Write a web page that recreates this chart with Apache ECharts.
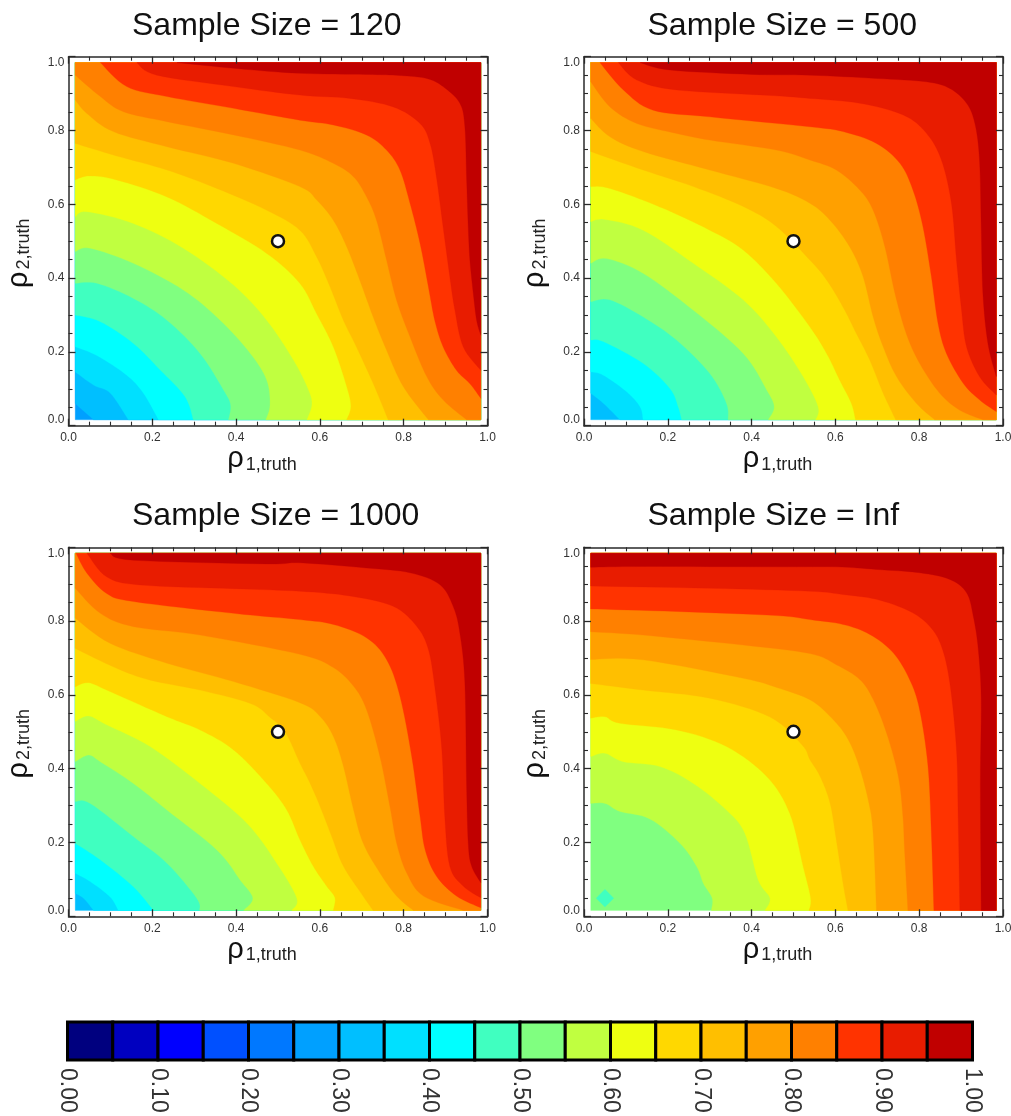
<!DOCTYPE html>
<html><head><meta charset="utf-8">
<style>html,body{margin:0;padding:0;background:#fff}#c{width:1011px;height:1116px}</style>
<script src="https://cdn.jsdelivr.net/npm/echarts@6/dist/echarts.min.js"></script>
</head><body><div id="c"></div>
<script>
const DOMAIN = [0.016, 0.984];
const TITLES = ['Sample Size = 120','Sample Size = 500','Sample Size = 1000','Sample Size = Inf'];
const BAND_COLORS = ['#00007f','#0000c0','#0000ff','#0050ff','#0078ff','#00a0ff','#00bfff','#00e0ff','#00ffff','#40ffc0','#80ff80','#c0ff40','#eeff11','#ffd800','#ffbf00','#ffa000','#ff8000','#ff3300','#e81c00','#c00000'];
const TRUTH_POINT = [0.5,0.5];

// lowest level present in each panel, then contour lines [level, points] in data units
const base120 = 0.25;
const contours120 = [
[0.30,[[.016,.06],[.036,.04],[.06,.016]]],
[0.35,[[.016,.146],[.06,.11],[.10,.088],[.143,.016]]],
[0.40,[[.016,.214],[.068,.19],[.139,.137],[.179,.088],[.215,.016]]],
[0.45,[[.016,.30],[.076,.282],[.155,.223],[.219,.151],[.278,.079],[.298,.016]]],
[0.50,[[.016,.386],[.068,.386],[.155,.345],[.235,.286],[.314,.196],[.37,.097],[.387,.056],[.382,.016]]],
[0.55,[[.016,.472],[.052,.481],[.155,.44],[.274,.368],[.362,.286],[.434,.196],[.473,.124],[.481,.056],[.471,.016]]],
[0.60,[[.016,.566],[.044,.58],[.155,.548],[.274,.481],[.394,.381],[.473,.286],[.537,.178],[.573,.097],[.581,.056],[.569,.016]]],
[0.65,[[.016,.666],[.05,.677],[.115,.666],[.235,.62],[.354,.548],[.473,.467],[.552,.386],[.592,.304],[.632,.214],[.664,.106],[.674,.052],[.664,.016]]],
[0.70,[[.016,.765],[.115,.731],[.235,.693],[.354,.643],[.473,.584],[.552,.53],[.592,.458],[.624,.377],[.656,.286],[.687,.214],[.727,.115],[.763,.016]]],
[0.75,[[.016,.883],[.044,.846],[.107,.797],[.235,.756],[.394,.711],[.552,.648],[.592,.612],[.632,.557],[.664,.485],[.695,.395],[.727,.295],[.759,.205],[.799,.106],[.859,.016]]],
[0.80,[[.016,.95],[.076,.892],[.131,.851],[.235,.824],[.394,.788],[.552,.747],[.632,.711],[.68,.675],[.711,.621],[.735,.557],[.759,.449],[.783,.34],[.815,.241],[.855,.133],[.894,.07],[.95,.016]]],
[0.85,[[.076,.984],[.139,.919],[.235,.892],[.394,.86],[.552,.828],[.632,.815],[.711,.788],[.759,.747],[.791,.693],[.815,.603],[.839,.494],[.859,.376],[.874,.286],[.894,.214],[.926,.15],[.958,.114],[.984,.074]]],
[0.90,[[.163,.984],[.211,.95],[.394,.919],[.552,.896],[.672,.887],[.775,.864],[.839,.819],[.863,.765],[.878,.675],[.894,.539],[.91,.404],[.922,.314],[.942,.214],[.984,.15]]],
[0.95,[[.259,.984],[.40,.968],[.552,.955],[.711,.952],[.791,.949],[.855,.941],[.894,.919],[.934,.874],[.946,.81],[.95,.675],[.954,.539],[.958,.449],[.966,.359],[.974,.286],[.984,.245]]]
];

const base500 = 0.30;
const contours500 = [
[0.35,[[.016,.088],[.046,.061],[.086,.016]]],
[0.40,[[.016,.146],[.046,.137],[.102,.092],[.134,.051],[.141,.016]]],
[0.45,[[.016,.232],[.046,.228],[.141,.169],[.205,.101],[.225,.051],[.233,.016]]],
[0.50,[[.016,.336],[.062,.341],[.141,.295],[.221,.232],[.30,.142],[.34,.061],[.344,.016]]],
[0.55,[[.016,.44],[.054,.453],[.141,.413],[.261,.313],[.38,.196],[.436,.097],[.454,.051],[.44,.016]]],
[0.60,[[.016,.553],[.05,.559],[.141,.53],[.261,.44],[.38,.341],[.459,.241],[.523,.133],[.559,.051],[.553,.016]]],
[0.65,[[.016,.648],[.062,.643],[.181,.593],[.30,.53],[.38,.476],[.459,.386],[.539,.268],[.579,.196],[.61,.124],[.638,.061],[.648,.016]]],
[0.70,[[.016,.743],[.141,.693],[.261,.648],[.38,.594],[.459,.54],[.539,.449],[.579,.395],[.618,.322],[.65,.25],[.682,.178],[.714,.088],[.744,.016]]],
[0.75,[[.016,.833],[.062,.783],[.141,.743],[.30,.693],[.459,.643],[.539,.603],[.587,.557],[.634,.485],[.666,.404],[.69,.295],[.714,.214],[.746,.133],[.793,.061],[.837,.016]]],
[0.80,[[.016,.932],[.062,.864],[.126,.819],[.221,.792],[.30,.774],[.459,.747],[.539,.72],[.602,.693],[.658,.639],[.69,.584],[.718,.485],[.742,.359],[.769,.25],[.801,.169],[.849,.088],[.897,.042],[.952,.016]]],
[0.85,[[.038,.984],[.094,.91],[.165,.855],[.30,.837],[.539,.81],[.618,.797],[.698,.765],[.754,.711],[.785,.639],[.809,.539],[.829,.404],[.845,.277],[.865,.196],[.905,.115],[.944,.07],[.984,.038]]],
[0.90,[[.082,.984],[.126,.937],[.221,.91],[.459,.894],[.539,.887],[.658,.874],[.762,.842],[.817,.793],[.853,.72],[.877,.602],[.889,.449],[.901,.314],[.913,.214],[.944,.133],[.984,.083]]],
[0.95,[[.134,.984],[.205,.964],[.40,.952],[.539,.95],[.698,.941],[.817,.932],[.873,.914],[.913,.874],[.933,.819],[.944,.72],[.948,.539],[.952,.359],[.964,.223],[.984,.133]]]
];

const base1000 = 0.30;
const contours1000 = [
[0.35,[[.016,.062],[.036,.049],[.06,.016]]],
[0.40,[[.016,.117],[.052,.094],[.099,.053],[.119,.016]]],
[0.45,[[.016,.198],[.076,.153],[.155,.08],[.203,.016]]],
[0.50,[[.016,.311],[.052,.306],[.155,.216],[.235,.144],[.306,.049],[.313,.016]]],
[0.55,[[.016,.419],[.048,.437],[.076,.419],[.155,.36],[.235,.288],[.354,.18],[.41,.098],[.44,.049],[.418,.016]]],
[0.60,[[.016,.528],[.048,.543],[.091,.519],[.195,.46],[.314,.36],[.426,.252],[.497,.144],[.545,.049],[.533,.016]]],
[0.65,[[.016,.622],[.048,.633],[.099,.609],[.235,.541],[.314,.505],[.394,.451],[.473,.36],[.521,.288],[.552,.208],[.584,.136],[.616,.082],[.636,.05],[.632,.016]]],
[0.70,[[.016,.726],[.115,.672],[.195,.64],[.314,.613],[.434,.577],[.48,.54],[.517,.5],[.552,.416],[.576,.362],[.60,.299],[.628,.217],[.656,.136],[.703,.055],[.727,.016]]],
[0.75,[[.016,.808],[.099,.74],[.235,.686],[.394,.636],[.552,.579],[.60,.542],[.632,.488],[.656,.407],[.68,.29],[.703,.199],[.743,.118],[.783,.055],[.823,.016]]],
[0.80,[[.016,.889],[.076,.821],[.155,.785],[.314,.762],[.552,.71],[.632,.674],[.68,.624],[.711,.561],[.743,.434],[.767,.298],[.783,.199],[.807,.118],[.847,.055],[.942,.016]]],
[0.85,[[.018,.984],[.044,.93],[.091,.875],[.155,.853],[.394,.821],[.552,.804],[.632,.791],[.711,.755],[.759,.696],[.791,.597],[.819,.434],[.839,.271],[.851,.181],[.878,.109],[.926,.055],[.984,.023]]],
[0.90,[[.044,.984],[.091,.92],[.171,.898],[.394,.888],[.552,.881],[.672,.868],[.775,.84],[.831,.786],[.859,.723],[.875,.615],[.891,.452],[.898,.271],[.91,.136],[.942,.082],[.984,.05]]],
[0.95,[[.099,.984],[.155,.965],[.473,.955],[.552,.958],[.711,.944],[.815,.931],[.886,.899],[.918,.84],[.934,.768],[.946,.633],[.95,.361],[.954,.199],[.962,.136],[.984,.091]]]
];

const baseInf = 0.50;
const islandInf = [0.45,[[.029,.049],[.05,.073],[.071,.049],[.05,.025]]];
const contoursInf = [
[0.55,[[.016,.306],[.05,.306],[.086,.284],[.157,.264],[.229,.198],[.269,.135],[.285,.089],[.306,.049],[.304,.016]]],
[0.60,[[.016,.433],[.05,.442],[.094,.419],[.181,.406],[.261,.36],[.34,.288],[.384,.225],[.416,.098],[.444,.049],[.432,.016]]],
[0.65,[[.016,.537],[.05,.541],[.086,.523],[.221,.505],[.34,.46],[.436,.379],[.491,.279],[.523,.135],[.541,.049],[.537,.016]]],
[0.70,[[.016,.631],[.141,.613],[.30,.591],[.444,.54],[.52,.465],[.539,.425],[.563,.38],[.587,.308],[.602,.208],[.618,.091],[.63,.016]]],
[0.75,[[.016,.696],[.141,.695],[.38,.645],[.46,.62],[.539,.587],[.587,.542],[.626,.488],[.654,.416],[.678,.317],[.69,.226],[.698,.016]]],
[0.80,[[.016,.771],[.141,.762],[.38,.735],[.539,.712],[.602,.682],[.658,.642],[.69,.588],[.722,.497],[.75,.38],[.761,.272],[.765,.181],[.773,.016]]],
[0.85,[[.016,.833],[.221,.826],[.459,.815],[.539,.804],[.618,.791],[.682,.764],[.738,.714],[.777,.642],[.801,.56],[.821,.407],[.829,.226],[.835,.016]]],
[0.90,[[.016,.895],[.30,.889],[.539,.881],[.618,.872],[.698,.859],[.777,.827],[.825,.786],[.853,.732],[.873,.633],[.889,.452],[.893,.271],[.897,.016]]],
[0.95,[[.016,.946],[.141,.948],[.459,.947],[.602,.947],[.698,.94],[.801,.931],[.873,.913],[.913,.877],[.929,.814],[.941,.724],[.948,.588],[.946,.362],[.948,.016]]]
];

const PANELS = [
 {base:base120, lines:contours120, box:[68.5,56.7]},
 {base:base500, lines:contours500, box:[584,56.7]},
 {base:base1000,lines:contours1000,box:[68.5,547.3]},
 {base:baseInf, lines:contoursInf, island:islandInf, box:[584,547.3]}
];
const BOX_W = 419, BOX_H = 369;
const ink = '#2a2a2a';
const [lo,hi] = DOMAIN;
const bandColor = lv => BAND_COLORS[Math.round(lv/0.05)];

// draw a contour through its read points as a rounded curve (pixel space, render only)
function roundCurve(px){
  const out=[px[0]], n=px.length;
  for(let i=0;i<n-1;i++){
    const p0=px[Math.max(i-1,0)],p1=px[i],p2=px[i+1],p3=px[Math.min(i+2,n-1)];
    for(let s=1;s<=8;s++){
      const t=s/8,t2=t*t,t3=t2*t;
      out.push([0,1].map(d=>0.5*(2*p1[d]+(p2[d]-p0[d])*t+(2*p0[d]-5*p1[d]+4*p2[d]-p3[d])*t2+(3*p1[d]-p0[d]-3*p2[d]+p3[d])*t3)));
    }
  }
  return out;
}
function closure(pts){
  const first=pts[0], last=pts[pts.length-1], tail=[];
  if (last[1] <= lo) tail.push([hi,lo]);
  tail.push([hi,hi]);
  if (first[0] <= lo) tail.push([lo,hi]);
  return tail;
}

const grid=[], xAxis=[], yAxis=[], series=[], title=[];
const nameRich = {r:{fontSize:29,fontFamily:'Liberation Sans',color:'#111',verticalAlign:'bottom',lineHeight:36,padding:[0,2,0,0]},
                  s:{fontSize:18,fontFamily:'Liberation Sans',color:'#222',verticalAlign:'bottom',lineHeight:26}};
PANELS.forEach((p,i)=>{
  grid.push({left:p.box[0],top:p.box[1],width:BOX_W,height:BOX_H,show:false,containLabel:false,outerBoundsMode:'none'});
  title.push({text:TITLES[i],left:(i%2?647.5:132),top:p.box[1]-47,padding:0,
    textStyle:{fontFamily:'Liberation Sans',fontSize:32,fontWeight:'normal',color:'#111'}});
  const line = {show:true,onZero:false,lineStyle:{color:ink,width:1.5}};
  const tick = {show:true,inside:true,length:7,lineStyle:{color:ink,width:1.3}};
  const minor = {show:true,splitNumber:4,length:4,lineStyle:{color:ink,width:1.1}};
  const common = {type:'value',min:0,max:1,interval:0.2,gridIndex:i,z:5,axisLine:line,axisTick:tick,minorTick:minor,splitLine:{show:false},minorSplitLine:{show:false}};
  const lbl = {color:'#333',fontFamily:'Liberation Sans',fontSize:12,formatter:v=>v.toFixed(1)};
  xAxis.push(Object.assign({},common,{position:'bottom',axisLabel:Object.assign({margin:6},lbl),
    name:'{r|\u03C1}{s|1,truth}',nameLocation:'middle',nameGap:11,nameTextStyle:{rich:nameRich,padding:[0,32,0,0]}}));
  xAxis.push(Object.assign({},common,{position:'top',axisLabel:{show:false}}));
  yAxis.push(Object.assign({},common,{position:'left',axisLabel:Object.assign({margin:4,verticalAlignMinLabel:'bottom',verticalAlignMaxLabel:'top'},lbl),
    name:'{r|\u03C1}{s|2,truth}',nameLocation:'middle',nameGap:35,nameRotate:90,nameTextStyle:{rich:nameRich,padding:[0,24,0,0]}}));
  yAxis.push(Object.assign({},common,{position:'right',axisLabel:{show:false}}));
  const xi=i*2, yi=i*2;
  const layers = [{lv:p.base, tail:[[lo,lo],[hi,lo],[hi,hi],[lo,hi]], curve:[]}];
  if (p.island) layers.push({lv:p.island[0], tail:p.island[1], curve:[]});
  p.lines.forEach(l=>layers.push({lv:l[0], curve:l[1], tail:closure(l[1])}));
  series.push({type:'custom',coordinateSystem:'cartesian2d',xAxisIndex:xi,yAxisIndex:yi,silent:true,clip:false,z:2,
    data:layers.map((l,k)=>[k,l.lv]),
    encode:{x:-1,y:-1},
    renderItem:(params,api)=>{
      const l = layers[api.value(0)];
      const curve = l.curve.length ? roundCurve(l.curve.map(q=>api.coord(q))) : [];
      return {type:'polygon',shape:{points:curve.concat(l.tail.map(q=>api.coord(q)))},
        style:{fill:bandColor(l.lv),stroke:bandColor(l.lv),lineWidth:0.3}};
    }});
  series.push({type:'scatter',xAxisIndex:xi,yAxisIndex:yi,data:[TRUTH_POINT],symbolSize:12,z:6,silent:true,
    itemStyle:{color:'#fff',borderColor:'#111',borderWidth:2.5,opacity:1}});
});

// colour bar
const cb = PANELS.length;
grid.push({left:67.5,top:1022,width:905,height:38,show:false,containLabel:false,outerBoundsMode:'none'});
xAxis.push({type:'value',gridIndex:cb,min:0,max:1,interval:0.1,position:'bottom',
  axisLine:{show:false},axisTick:{show:false},splitLine:{show:false},
  axisLabel:{rotate:-90,margin:8,color:'#333',fontFamily:'Liberation Sans',fontSize:23,formatter:v=>v.toFixed(2)}});
yAxis.push({type:'value',gridIndex:cb,min:0,max:1,show:false});
series.push({type:'custom',coordinateSystem:'cartesian2d',xAxisIndex:cb*2,yAxisIndex:cb*2,silent:true,clip:false,
  data:BAND_COLORS.map((c,k)=>[k]),encode:{x:-1,y:-1},
  renderItem:(params,api)=>{
    const k=api.value(0);
    const a=api.coord([k*0.05,0]), b=api.coord([(k+1)*0.05,1]);
    return {type:'rect',shape:{x:a[0],y:b[1],width:b[0]-a[0],height:a[1]-b[1]},
      style:{fill:BAND_COLORS[k],stroke:'#000',lineWidth:3}};
  }});

const chart = echarts.init(document.getElementById('c'),null,{renderer:'canvas'});
chart.setOption({animation:false,backgroundColor:'#fff',tooltip:{show:false},title,grid,xAxis,yAxis,series});
</script></body></html>
